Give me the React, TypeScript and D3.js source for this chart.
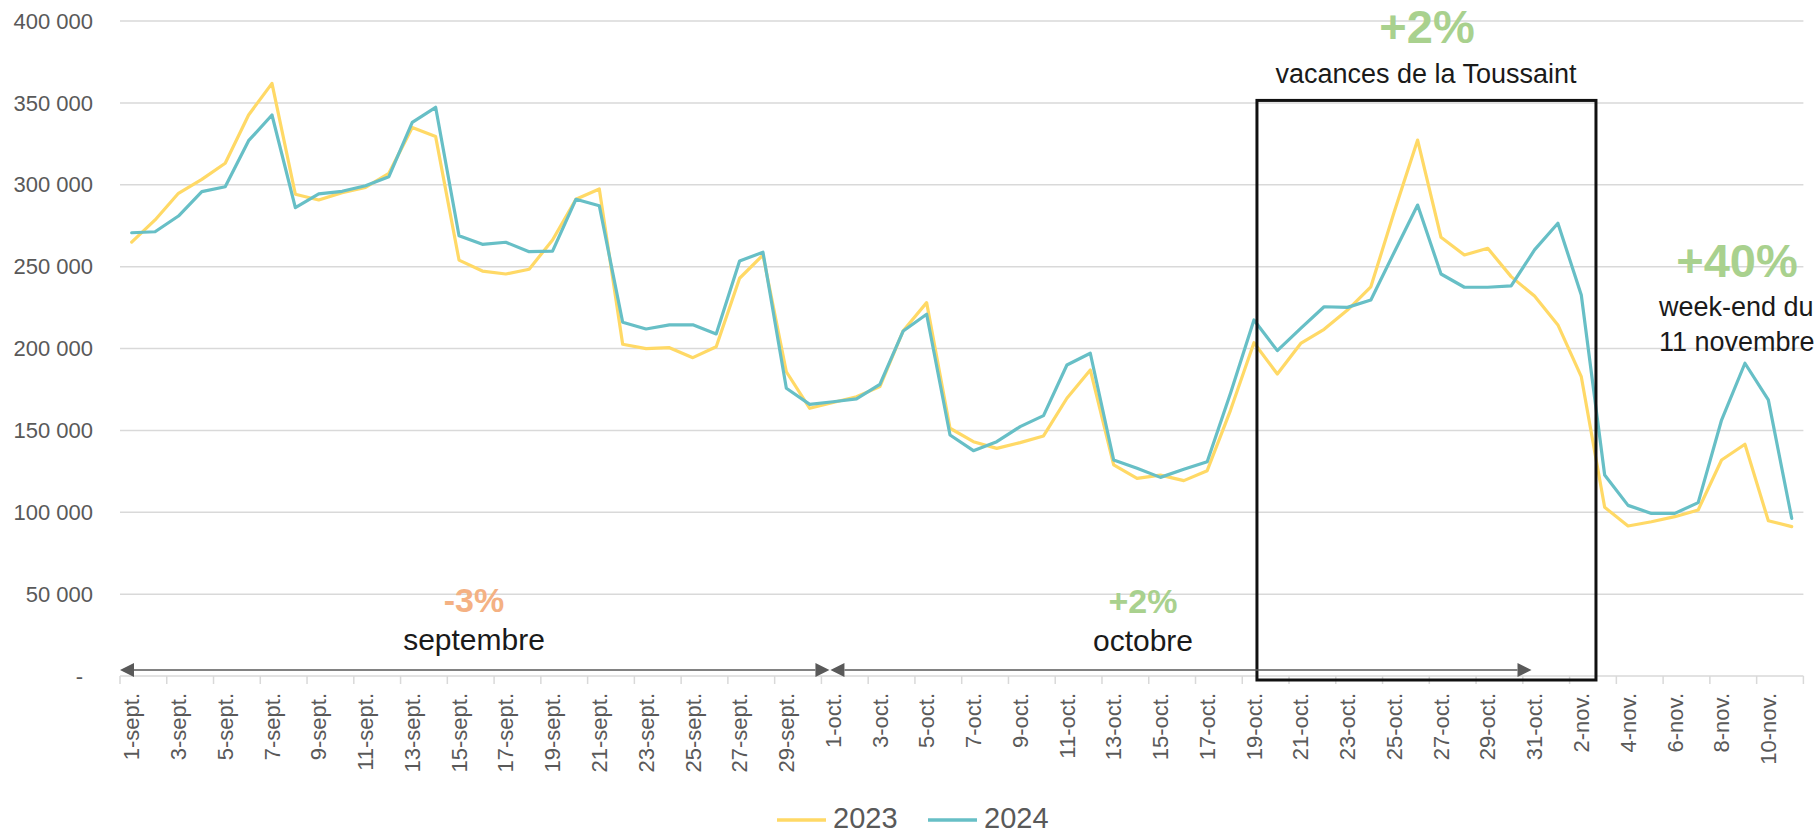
import React from "react";
import * as d3 from "d3";

const categories: string[] = [
  ...d3.range(1, 31).map((d) => `${d}-sept.`),
  ...d3.range(1, 32).map((d) => `${d}-oct.`),
  ...d3.range(1, 12).map((d) => `${d}-nov.`),
];

const values2023: number[] = [
  265000, 278500, 294800, 303300, 313100, 342600, 361900, 294200, 290700, 295200,
  298400, 307000, 334900, 329400, 254000, 247300, 245500, 248400, 266300, 291100,
  297400, 202600, 199900, 200500, 194400, 201100, 242900, 257100, 185800, 163500,
  167000, 170500, 176700, 210900, 228000, 151300, 143100, 139000, 142500, 146600,
  169600, 186900, 128900, 120700, 122700, 119300, 125400, 162400, 203500, 184400,
  203100, 211700, 223500, 237700, 283500, 327300, 267900, 257100, 261200, 243900,
  232000, 214400, 182800, 103000, 91600, 94200, 97300, 101400, 131900, 141500,
  94800, 91200,
];

const values2024: number[] = [
  270700, 271300, 280900, 295800, 298800, 326900, 342600, 286000, 294400, 296000,
  299400, 304900, 338100, 347300, 268900, 263600, 264900, 259100, 259500, 291100,
  287200, 216000, 211900, 214400, 214500, 208900, 253400, 258800, 175700, 165900,
  167500, 169200, 178100, 210700, 220900, 147200, 137600, 143100, 152300, 159000,
  189900, 197100, 131900, 126800, 121300, 126200, 130900, 172800, 217400, 198700,
  212300, 225500, 225100, 229600, 258800, 287600, 245500, 237400, 237400, 238200,
  260200, 276500, 232700, 122700, 104200, 99300, 99300, 105900, 156300, 191000,
  168600, 96300,
];

const yTicks: number[] = [0, 50000, 100000, 150000, 200000, 250000, 300000, 350000, 400000];
const seriesNames: string[] = ["2023", "2024"];
const seriesColors: string[] = ["#FFD966", "#67BFC6"];

const W = 1819;
const H = 835;
const FONT = "'Liberation Sans', Arial, sans-serif";

export default function App() {
  const x = d3.scaleBand<string>().domain(categories).range([120, 1803.4]).padding(0);
  const bw = x.bandwidth();
  const y = d3.scaleLinear().domain([0, 400000]).range([676, 21]);
  const cx = (i: number) => (x(categories[i]) as number) + bw / 2;

  const line = d3
    .line<number>()
    .x((_, i) => cx(i))
    .y((d) => y(d));

  const fmt = (v: number) => (v === 0 ? "-" : `${v / 1000} 000`);

  const septStart = x("1-sept.") as number;
  const octBoundary = (x("1-oct.") as number) + 8;
  const octEnd = (x("31-oct.") as number) + bw / 2 - 3;
  const boxLeft = (x("19-oct.") as number) + bw / 2 + 3;
  const boxRight = (x("2-nov.") as number) + bw + 3;
  const boxTop = y(351500);
  const boxBottom = y(0) + 4;
  const arrowY = y(0) - 6;

  const ah = 14;
  const aw = 7;
  const grey = "#595959";

  const tickBoundaries = d3.range(0, categories.length + 1, 2);

  return (
    <svg
      width={W}
      height={H}
      style={{ position: "absolute", left: 0, top: 0, background: "#fff" }}
      fontFamily={FONT}
    >
      <rect x={0} y={0} width={W} height={H} fill="#fff" />
      {/* gridlines */}
      {yTicks.map((t) => (
        <line
          key={t}
          x1={120}
          x2={1803.4}
          y1={y(t)}
          y2={y(t)}
          stroke="#D9D9D9"
          strokeWidth={1.5}
        />
      ))}
      {/* y labels */}
      {yTicks.map((t) => (
        <text
          key={"l" + t}
          x={t === 0 ? 83 : 93}
          y={y(t)}
          dy="0.35em"
          textAnchor="end"
          fontSize={22}
          fill={grey}
        >
          {fmt(t)}
        </text>
      ))}
      {/* x ticks */}
      {tickBoundaries.map((b) => {
        const xx = b < categories.length ? (x(categories[b]) as number) : 1803.4;
        return (
          <line key={"t" + b} x1={xx} x2={xx} y1={y(0)} y2={y(0) + 8} stroke="#D9D9D9" strokeWidth={1.5} />
        );
      })}
      {/* x labels */}
      {categories.map((c, i) =>
        i % 2 === 0 ? (
          <text
            key={c}
            transform={`translate(${cx(i)},${693}) rotate(-90)`}
            dy="0.35em"
            textAnchor="end"
            fontSize={22}
            fill={grey}
          >
            {c}
          </text>
        ) : null
      )}
      {/* series lines */}
      {[values2023, values2024].map((vals, k) => (
        <path
          key={seriesNames[k]}
          d={line(vals) as string}
          fill="none"
          stroke={seriesColors[k]}
          strokeWidth={3.2}
          strokeLinejoin="round"
          strokeLinecap="round"
        />
      ))}
      {/* Toussaint box */}
      <rect
        x={boxLeft}
        y={boxTop}
        width={boxRight - boxLeft}
        height={boxBottom - boxTop}
        fill="none"
        stroke="#111"
        strokeWidth={3}
      />
      {/* arrows */}
      <line x1={septStart + ah} x2={octBoundary - ah} y1={arrowY} y2={arrowY} stroke={grey} strokeWidth={1.6} />
      <path
        d={`M${septStart},${arrowY} L${septStart + ah},${arrowY - aw} L${septStart + ah},${arrowY + aw} Z`}
        fill={grey}
      />
      <path
        d={`M${octBoundary},${arrowY} L${octBoundary - ah},${arrowY - aw} L${octBoundary - ah},${arrowY + aw} Z`}
        fill={grey}
      />
      <line x1={octBoundary + 1 + ah} x2={octEnd - ah} y1={arrowY} y2={arrowY} stroke={grey} strokeWidth={1.6} />
      <path
        d={`M${octBoundary + 1},${arrowY} L${octBoundary + 1 + ah},${arrowY - aw} L${octBoundary + 1 + ah},${arrowY + aw} Z`}
        fill={grey}
      />
      <path
        d={`M${octEnd},${arrowY} L${octEnd - ah},${arrowY - aw} L${octEnd - ah},${arrowY + aw} Z`}
        fill={grey}
      />
      {/* annotations */}
      <text x={474} y={612} textAnchor="middle" fontSize={34} fontWeight="bold" fill="#F4B183">
        -3%
      </text>
      <text x={474} y={650} textAnchor="middle" fontSize={30} fill="#1a1a1a">
        septembre
      </text>
      <text x={1143} y={613} textAnchor="middle" fontSize={34} fontWeight="bold" fill="#A9D18E">
        +2%
      </text>
      <text x={1143} y={651} textAnchor="middle" fontSize={30} fill="#1a1a1a">
        octobre
      </text>
      <text x={1427} y={43} textAnchor="middle" fontSize={47} fontWeight="bold" fill="#A9D18E">
        +2%
      </text>
      <text x={1426} y={83} textAnchor="middle" fontSize={27} fill="#1a1a1a">
        vacances de la Toussaint
      </text>
      <text x={1737} y={277} textAnchor="middle" fontSize={47} fontWeight="bold" fill="#A9D18E">
        +40%
      </text>
      <text x={1659} y={316} fontSize={27} fill="#1a1a1a">
        week-end du
      </text>
      <text x={1659} y={351} fontSize={27} fill="#1a1a1a">
        11 novembre
      </text>
      {/* legend */}
      {seriesNames.map((n, k) => {
        const lx = 777 + k * 151;
        return (
          <g key={"lg" + n}>
            <line x1={lx} x2={lx + 49} y1={820} y2={820} stroke={seriesColors[k]} strokeWidth={3.5} />
            <text x={lx + 56} y={828} fontSize={29} fill={grey}>
              {n}
            </text>
          </g>
        );
      })}
    </svg>
  );
}
